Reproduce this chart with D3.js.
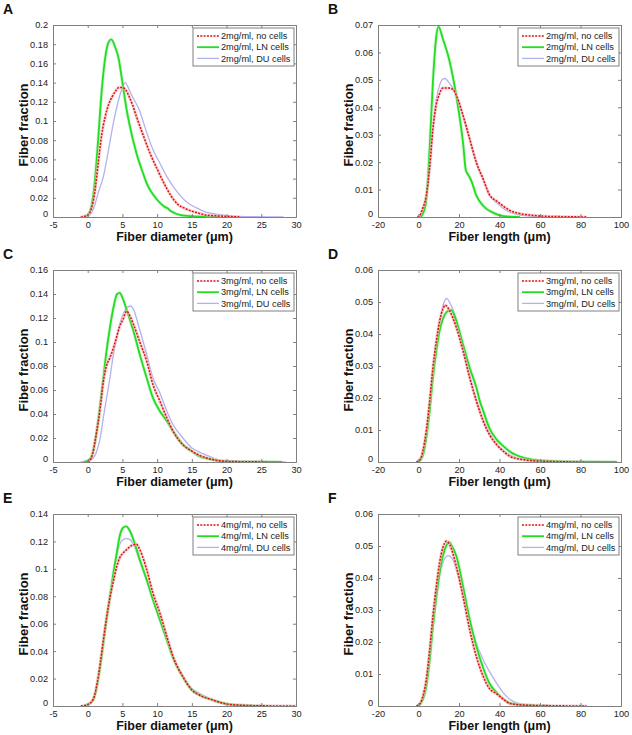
<!DOCTYPE html>
<html><head><meta charset="utf-8">
<script src="https://cdn.jsdelivr.net/npm/d3@7"></script>
<style>body{margin:0;background:#fff}svg{display:block}</style>
</head><body>
<script>
// ---------- DATA ----------
const panelLetters = ["A","B","C","D","E","F"];
const concentrations = ["2mg/ml","3mg/ml","4mg/ml"];
const cellTypes = ["no cells","LN cells","DU cells"];
const yLabel = "Fiber fraction";
const xLabelDiameter = "Fiber diameter (\u03bcm)";
const xLabelLength = "Fiber length (\u03bcm)";
const diamXTicks = [-5,0,5,10,15,20,25,30];
const lenXTicks = [-20,0,20,40,60,80,100];
const yTicksA = [0,0.02,0.04,0.06,0.08,0.1,0.12,0.14,0.16,0.18,0.2];
const yTicksB = [0,0.01,0.02,0.03,0.04,0.05,0.06,0.07];
const yTicksC = [0,0.02,0.04,0.06,0.08,0.1,0.12,0.14,0.16];
const yTicksD = [0,0.01,0.02,0.03,0.04,0.05,0.06];
const yTicksE = [0,0.02,0.04,0.06,0.08,0.1,0.12,0.14];
const yTicksF = [0,0.01,0.02,0.03,0.04,0.05,0.06];

const A_none = [[-1,0],[0,0.002],[0.5,0.008],[1,0.025],[1.5,0.055],[2,0.085],[2.5,0.104],[3,0.117],[3.5,0.125],[4,0.131],[4.5,0.135],[5,0.135],[5.5,0.132],[6,0.125],[6.5,0.116],[7,0.105],[8,0.085],[9,0.066],[10,0.05],[11,0.035],[12,0.022],[13,0.013],[14,0.009],[15,0.006],[16,0.004],[17,0.002],[19,0.001],[22,0]];
const A_LN = [[-0.5,0],[0,0.002],[0.5,0.01],[1,0.035],[1.5,0.08],[2,0.13],[2.5,0.165],[3,0.182],[3.4,0.185],[4,0.176],[4.4,0.167],[5,0.14],[5.6,0.112],[6,0.097],[7,0.067],[8,0.045],[8.5,0.035],[9,0.028],[10,0.018],[11,0.011],[11.5,0.009],[12,0.006],[13.4,0.002],[15,0.0008],[17,0.0002],[19,0]];
const A_DU = [[0,0],[0.5,0.004],[1,0.012],[1.5,0.025],[2.25,0.042],[3,0.07],[3.7,0.098],[4.6,0.126],[5,0.135],[5.4,0.14],[6,0.132],[6.4,0.126],[7.4,0.112],[8.5,0.088],[9.4,0.07],[10.4,0.056],[11.4,0.042],[12.8,0.027],[14.2,0.016],[15,0.012],[16.1,0.008],[17,0.005],[18.5,0.003],[20.9,0.001],[24,0.0003],[28.2,0]];

const B_none = [[-0.5,0],[1,0.001],[2,0.003],[3.8,0.0076],[5.5,0.018],[7.1,0.032],[8.8,0.041],[10.4,0.045],[12,0.047],[15,0.047],[17,0.0465],[18.7,0.0443],[22,0.037],[25.3,0.0284],[28.6,0.0198],[32,0.0137],[35,0.0082],[38.6,0.0058],[42,0.0039],[45,0.0024],[48.5,0.0015],[55,0.0007],[65,0.0002],[75,0.0001],[83,0]];
const B_LN = [[1,0],[2,0.001],[3.8,0.006],[5.5,0.025],[7.1,0.049],[8.8,0.066],[9.9,0.0694],[12,0.065],[15.4,0.0566],[18.7,0.044],[22,0.027],[23.4,0.017],[24.5,0.0155],[26.2,0.013],[28.6,0.0078],[32,0.004],[37,0.0015],[42,0.0003],[50,0]];
const B_DU = [[0,0],[2,0.002],[3.8,0.007],[5.5,0.017],[7.1,0.032],[8.8,0.043],[10.4,0.048],[12,0.0503],[13.2,0.0505],[15,0.049],[17,0.047],[18.7,0.0445],[22,0.037],[25.3,0.0284],[28.6,0.0198],[32,0.0137],[35,0.008],[38.6,0.0052],[42,0.003],[45,0.0018],[48.5,0.001],[55,0.0003],[60,0]];

const C_none = [[0,0],[0.5,0.003],[1.3,0.0256],[1.8,0.045],[2.25,0.067],[2.7,0.08],[3.2,0.087],[3.7,0.095],[4.2,0.105],[4.6,0.113],[5.1,0.119],[5.6,0.1257],[6.1,0.1215],[6.6,0.1146],[7.5,0.1],[8.5,0.084],[9.4,0.0645],[10.4,0.0506],[11.4,0.0367],[12.3,0.0256],[13.7,0.0145],[15,0.009],[16.1,0.0056],[18,0.002],[20,0.0005],[23.3,0.0002],[25.7,0]];
const C_LN = [[-0.5,0],[0,0.001],[0.5,0.004],[1.3,0.0256],[1.8,0.048],[2.25,0.07],[2.7,0.092],[3.2,0.112],[3.7,0.1285],[4.2,0.1397],[4.6,0.141],[5.1,0.1355],[5.6,0.127],[6.6,0.109],[7.5,0.0896],[8.5,0.07],[9.4,0.0534],[10.4,0.0423],[11.4,0.034],[12.3,0.0256],[13.7,0.0145],[15,0.009],[16,0.005],[18,0.002],[20,0.0005],[24,0.0002],[28,0]];
const C_DU = [[-1,0],[0.5,0.002],[1.3,0.009],[1.8,0.02],[2.25,0.037],[2.7,0.053],[3.2,0.07],[3.7,0.0896],[4.2,0.1035],[4.6,0.1146],[5.1,0.123],[5.6,0.1285],[6.2,0.13],[6.6,0.127],[7.5,0.11],[8.5,0.0896],[9.4,0.07],[10.4,0.0576],[11.4,0.0423],[12.3,0.031],[13.7,0.02],[15,0.0117],[16.1,0.0083],[17,0.006],[18.5,0.0025],[20,0.001],[24,0.0002],[28.5,0]];

const D_none = [[-1,0],[1,0.001],[2.1,0.0033],[3.8,0.0096],[5.5,0.019],[7.1,0.0294],[8.8,0.0378],[10.4,0.044],[12,0.0477],[13.2,0.049],[15.4,0.0472],[18.7,0.042],[22,0.0347],[25.3,0.0263],[28.6,0.019],[32,0.0127],[35,0.0086],[38.6,0.0054],[42,0.0033],[45,0.0018],[52,0.0007],[61.7,0.0002],[81.6,0]];
const D_LN = [[0,0],[2.1,0.002],[3.8,0.0075],[5.5,0.0159],[7.1,0.0263],[8.8,0.0347],[10.4,0.041],[12,0.0446],[14.5,0.0472],[16.2,0.0475],[18.7,0.044],[22,0.0367],[25.3,0.0294],[28.6,0.0232],[30.3,0.019],[32,0.0159],[35,0.0106],[38.6,0.007],[42,0.0049],[45,0.0033],[48.5,0.0021],[55,0.0009],[62,0.0004],[75,0.0001],[98,0]];
const D_DU = [[0,0],[2.1,0.002],[3.8,0.007],[5.5,0.016],[7.1,0.027],[8.8,0.036],[10.4,0.043],[12,0.0487],[14,0.0511],[15.4,0.0498],[18.7,0.0446],[22,0.0357],[25.3,0.0268],[28.6,0.0195],[32,0.0133],[35,0.009],[38.6,0.0057],[42,0.0035],[48.5,0.0013],[56.8,0.0004],[65,0]];

const E_none = [[-1,0],[0,0.001],[0.8,0.005],[1.3,0.015],[1.8,0.031],[2.25,0.048],[2.7,0.064],[3.2,0.079],[3.7,0.091],[4.2,0.102],[4.6,0.108],[5.1,0.1116],[5.6,0.114],[6.3,0.117],[7,0.118],[7.5,0.114],[8.5,0.0994],[9.4,0.0823],[10.4,0.0677],[11.4,0.0507],[12.3,0.036],[13.7,0.0214],[15,0.0117],[16.1,0.008],[18,0.0044],[20,0.0015],[22.4,0.0005],[26,0.0001],[30,0]];
const E_LN = [[-0.5,0],[0,0.001],[0.8,0.0044],[1.3,0.014],[1.8,0.0287],[2.25,0.0458],[2.7,0.0628],[3.2,0.08],[3.7,0.097],[4.2,0.112],[4.6,0.1237],[5.1,0.13],[5.5,0.131],[6.1,0.1274],[6.6,0.121],[7.5,0.1067],[8.5,0.092],[9.4,0.0775],[10.4,0.0628],[11.4,0.0482],[12.3,0.0348],[13.7,0.0214],[15,0.0117],[16.1,0.008],[18,0.0044],[20,0.0015],[22.4,0.0004],[25.5,0]];
const E_DU = [[-0.5,0],[0,0.001],[0.8,0.004],[1.3,0.013],[1.8,0.028],[2.25,0.045],[2.7,0.062],[3.2,0.079],[3.7,0.095],[4.2,0.11],[4.6,0.1177],[5.1,0.1213],[5.6,0.122],[6.1,0.1213],[6.6,0.1177],[7.5,0.1055],[8.5,0.091],[9.4,0.077],[10.4,0.0625],[11.4,0.048],[12.3,0.035],[13.7,0.022],[15,0.013],[16.1,0.0093],[17,0.0068],[18.5,0.003],[20.9,0.001],[25.5,0]];

const F_none = [[-1,0],[1,0.001],[2.1,0.0029],[3.8,0.0081],[5.5,0.0175],[7.1,0.028],[8.8,0.0374],[10.4,0.0447],[12,0.0494],[13.7,0.0515],[15.4,0.0504],[18.7,0.0436],[22,0.0342],[25.3,0.0238],[28.6,0.0154],[32,0.0092],[35,0.0055],[38.6,0.0038],[42,0.0021],[45,0.0008],[52,0.0003],[65,0.0001],[83,0]];
const F_LN = [[0,0],[2.1,0.002],[3.8,0.006],[5.5,0.0144],[7.1,0.0248],[8.8,0.0342],[10.4,0.0415],[12,0.0468],[13.7,0.0501],[15,0.0512],[17,0.0494],[18.7,0.0468],[22,0.0374],[25.3,0.0269],[28.6,0.0186],[32,0.0118],[35,0.0071],[38.6,0.0042],[42,0.0021],[45,0.001],[52,0.0003],[65,0]];
const F_DU = [[0,0],[2.1,0.002],[3.8,0.006],[5.5,0.014],[7.1,0.024],[8.8,0.033],[10.4,0.0405],[12,0.0447],[14.6,0.047],[17,0.0457],[18.7,0.0426],[22,0.0353],[25.3,0.0269],[28.6,0.0196],[32,0.0144],[35,0.0108],[38.6,0.0071],[42,0.004],[45,0.0021],[48.5,0.001],[55,0.0003],[60,0]];

// ---------- LAYOUT / STYLE ----------
const W = 632, H = 735;
const colLeft = [53, 378], plotW = 243;
const rowTop = [25, 270, 514], plotH = 192;
const seriesStyle = [
  {color:"#dd1111", width:1.5, dash:"2,1.3", halo:"#f6b8b8"},
  {color:"#22dd22", width:1.8, dash:null, halo:"#b8f2b8"},
  {color:"#b2b2f0", width:1.3, dash:null, halo:null}
];
const drawOrder = [2,1,0];
const FONT = "'Liberation Sans', Arial, Helvetica, sans-serif";

const panels = [
  {letter:panelLetters[0], conc:concentrations[0], xDomain:[-5,30], xTicks:diamXTicks, yMax:0.2, yTicks:yTicksA, xLabel:xLabelDiameter, series:[A_none,A_LN,A_DU], col:0,row:0},
  {letter:panelLetters[1], conc:concentrations[0], xDomain:[-20,100], xTicks:lenXTicks, yMax:0.07, yTicks:yTicksB, xLabel:xLabelLength, series:[B_none,B_LN,B_DU], col:1,row:0},
  {letter:panelLetters[2], conc:concentrations[1], xDomain:[-5,30], xTicks:diamXTicks, yMax:0.16, yTicks:yTicksC, xLabel:xLabelDiameter, series:[C_none,C_LN,C_DU], col:0,row:1},
  {letter:panelLetters[3], conc:concentrations[1], xDomain:[-20,100], xTicks:lenXTicks, yMax:0.06, yTicks:yTicksD, xLabel:xLabelLength, series:[D_none,D_LN,D_DU], col:1,row:1},
  {letter:panelLetters[4], conc:concentrations[2], xDomain:[-5,30], xTicks:diamXTicks, yMax:0.14, yTicks:yTicksE, xLabel:xLabelDiameter, series:[E_none,E_LN,E_DU], col:0,row:2},
  {letter:panelLetters[5], conc:concentrations[2], xDomain:[-20,100], xTicks:lenXTicks, yMax:0.06, yTicks:yTicksF, xLabel:xLabelLength, series:[F_none,F_LN,F_DU], col:1,row:2}
];

const svg = d3.select("body").append("svg").attr("width",W).attr("height",H)
  .style("font-family",FONT);

const fmt = d => String(+d.toFixed(4));

panels.forEach(p => {
  const x0 = colLeft[p.col], y0 = rowTop[p.row];
  const g = svg.append("g").attr("transform",`translate(${x0},${y0})`);
  const x = d3.scaleLinear().domain(p.xDomain).range([0,plotW]);
  const y = d3.scaleLinear().domain([0,p.yMax]).range([plotH,0]);

  // panel letter
  svg.append("text").attr("x", x0 - 50).attr("y", y0 - 11)
    .attr("font-size",14).attr("font-weight","bold").attr("fill","#111").text(p.letter);

  g.append("rect").attr("width",plotW).attr("height",plotH).attr("fill","#fff");

  // curves
  const line = d3.line().x(d=>x(d[0])).y(d=>y(d[1])).curve(d3.curveMonotoneX);
  const clip = "clip"+p.letter;
  g.append("clipPath").attr("id",clip).append("rect").attr("width",plotW).attr("height",plotH+1);
  const cg = g.append("g").attr("clip-path",`url(#${clip})`);
  drawOrder.forEach(i => {
    const st = seriesStyle[i];
    if (st.halo) cg.append("path").datum(p.series[i]).attr("d",line).attr("fill","none")
      .attr("stroke",st.halo).attr("stroke-width",st.width+1.6).attr("opacity",0.6);
    cg.append("path").datum(p.series[i]).attr("d",line).attr("fill","none")
      .attr("stroke",st.color).attr("stroke-width",st.width)
      .attr("stroke-dasharray",st.dash).attr("stroke-linejoin","round");
  });

  // axes (MATLAB box style, inward ticks)
  const axCol = "#808080";
  const xb = g.append("g").attr("transform",`translate(0,${plotH})`)
    .call(d3.axisBottom(x).tickValues(p.xTicks).tickSize(-3).tickPadding(4).tickFormat(fmt));
  const xt = g.append("g").call(d3.axisTop(x).tickValues(p.xTicks).tickSize(-3).tickFormat(""));
  const yl = g.append("g").call(d3.axisLeft(y).tickValues(p.yTicks).tickSize(-3).tickPadding(5).tickFormat(fmt));
  const yr = g.append("g").attr("transform",`translate(${plotW},0)`)
    .call(d3.axisRight(y).tickValues(p.yTicks).tickSize(-3).tickFormat(""));
  [xb,xt,yl,yr].forEach(a => {
    a.select(".domain").attr("stroke",axCol).attr("stroke-width",1);
    a.selectAll(".tick line").attr("stroke",axCol);
    a.selectAll("text").attr("font-size",9.2).attr("fill","#222").style("font-family",FONT);
  });
  // first x tick label: MATLAB puts y "0" a bit above
  yl.selectAll(".tick").filter(d=>d===0).select("text").attr("dy","-0.1em");

  // axis labels
  g.append("text").attr("x",plotW/2).attr("y",plotH+24).attr("text-anchor","middle")
    .attr("font-size",12.5).attr("font-weight","bold").attr("fill","#111").text(p.xLabel);
  g.append("text").attr("transform",`translate(-25,${plotH/2+4}) rotate(-90)`)
    .attr("text-anchor","middle").attr("font-size",13).attr("font-weight","bold").attr("fill","#111").text(yLabel);

  // legend
  const lw = 101, lh = 38;
  const lg = g.append("g").attr("transform",`translate(${plotW-2-lw},3)`);
  lg.append("rect").attr("width",lw).attr("height",lh).attr("fill","#fff").attr("stroke",axCol);
  cellTypes.forEach((ct,i) => {
    const yy = 8 + i*11.2;
    const st = seriesStyle[i];
    lg.append("line").attr("x1",4).attr("x2",26).attr("y1",yy).attr("y2",yy)
      .attr("stroke",st.color).attr("stroke-width",st.width).attr("stroke-dasharray",st.dash);
    lg.append("text").attr("x",28).attr("y",yy+3.2).attr("font-size",9.2).attr("fill","#222")
      .text(`${p.conc}, ${ct}`);
  });
});
</script>
</body></html>
